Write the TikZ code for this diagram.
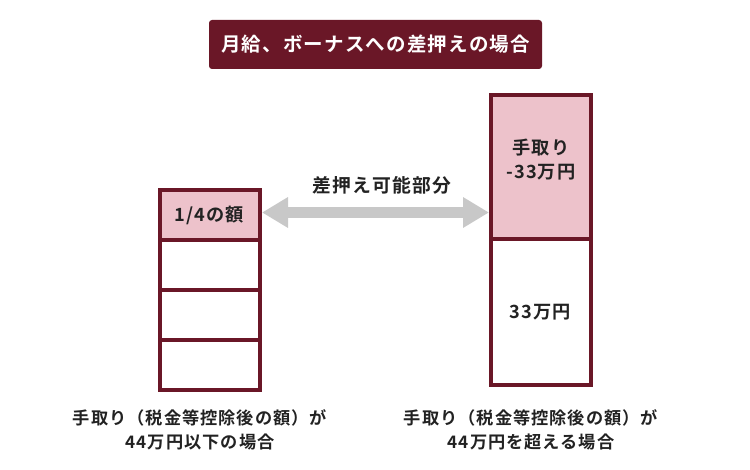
\documentclass[tikz,border=0pt]{standalone}
\usepackage{fontspec}
\setmainfont{Noto Sans CJK JP}[BoldFont={Noto Sans CJK JP Bold},LetterSpace=6]
\usetikzlibrary{arrows.meta}
\definecolor{maroon}{HTML}{6A1727}
\definecolor{pinkfill}{HTML}{EDC2CB}
\definecolor{arrowgray}{HTML}{C8C8C8}
\definecolor{txt}{HTML}{222222}
\newcommand\mytightlines{\setlength{\lineskiplimit}{-100pt}}
\begin{document}
\begin{tikzpicture}[x=1pt,y=-1pt,
  cell/.style={draw=maroon,line width=4pt,minimum width=100pt,inner sep=0pt},
  celltext/.style={font=\bfseries\fontsize{18.2}{24}\selectfont\mytightlines,text=txt,align=center,inner sep=0pt},
  lbl/.style={font=\bfseries\fontsize{17.2}{24}\selectfont\mytightlines,text=txt,align=center,inner sep=0pt},
  titlebox/.style={fill=maroon,rounded corners=3pt,minimum width=333pt,minimum height=49pt,inner sep=0pt,text=white,font=\bfseries\fontsize{19.5}{24}\selectfont}]
\useasboundingbox (0,0) rectangle (750,470);
\node[titlebox] (title) at (375.5,44.5) {月給、ボーナスへの差押えの場合};
% left column
\node[cell,fill=pinkfill,minimum height=49.5pt] (l1) at (210,215) {};
\node[cell,fill=white,minimum height=50pt] (l2) at (210,265) {};
\node[cell,fill=white,minimum height=50pt] (l3) at (210,315) {};
\node[cell,fill=white,minimum height=49.7pt] (l4) at (210,364.85) {};
\node[celltext] (l1t) at (209.5,215) {1/4の額};
% right column
\node[cell,fill=pinkfill,minimum width=99.7pt,minimum height=143.7pt] (r1) at (540.85,166.85) {};
\node[cell,fill=white,minimum width=99.7pt,minimum height=146.3pt] (r2) at (540.85,311.85) {};
\node[celltext] (r1t) at (541,160) {手取り\\-33万円};
\node[celltext] (r2t) at (540,312) {33万円};
% arrow
\coordinate (al) at ([yshift=2.5pt]l1.east);
\draw[arrowgray,line width=11pt,{Triangle[length=26pt,width=29pt]}-{Triangle[length=26pt,width=29pt]}] (al) -- (al -| r1.west);
\node[lbl,font=\bfseries\fontsize{18.8}{20}\selectfont] (alabel) at (382,185) {差押え可能部分};
% bottom labels
\node[lbl] (bl) at (200,430) {手取り（税金等控除後の額）が\\44万円以下の場合};
\node[lbl] (br) at (531,430) {手取り（税金等控除後の額）が\\44万円を超える場合};
\end{tikzpicture}
\end{document}
